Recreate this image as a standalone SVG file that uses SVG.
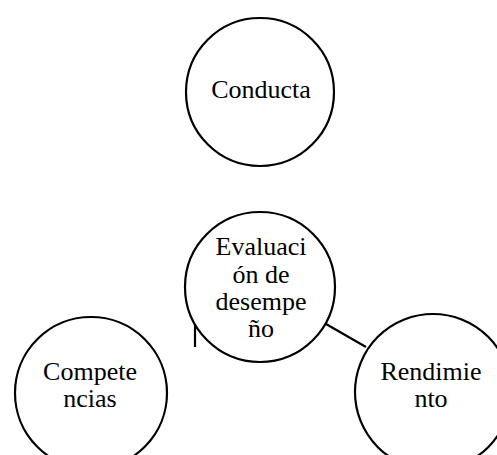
<svg xmlns="http://www.w3.org/2000/svg" width="497" height="455" viewBox="0 0 497 455">
<style>
.n{fill:#fff;stroke:#000;stroke-width:2.2}
.t{font-family:"Liberation Serif","Times New Roman",serif;font-size:26px;fill:#000;text-anchor:middle}
.c{stroke:#000;stroke-width:2.2;fill:none}
</style>
<rect width="497" height="455" fill="#fff"/>
<g id="connectors">
<line class="c" x1="195" y1="324" x2="195" y2="347"/>
<line class="c" x1="326" y1="324" x2="366" y2="347"/>
</g>
<g id="conducta">
<circle class="n" cx="260" cy="92" r="74"/>
<text class="t" x="261" y="98">Conducta</text>
</g>
<g id="evaluacion">
<circle class="n" cx="260" cy="287" r="75"/>
<text class="t" x="261" y="255">Evaluaci</text>
<text class="t" x="261" y="283">ón de</text>
<text class="t" x="261" y="310">desempe</text>
<text class="t" x="261" y="337">ño</text>
</g>
<g id="competencias">
<circle class="n" cx="91" cy="393" r="76"/>
<text class="t" x="90" y="380">Compete</text>
<text class="t" x="90" y="407">ncias</text>
</g>
<g id="rendimiento">
<circle class="n" cx="433" cy="392" r="78"/>
<text class="t" x="431" y="380">Rendimie</text>
<text class="t" x="431" y="407">nto</text>
</g>
</svg>
